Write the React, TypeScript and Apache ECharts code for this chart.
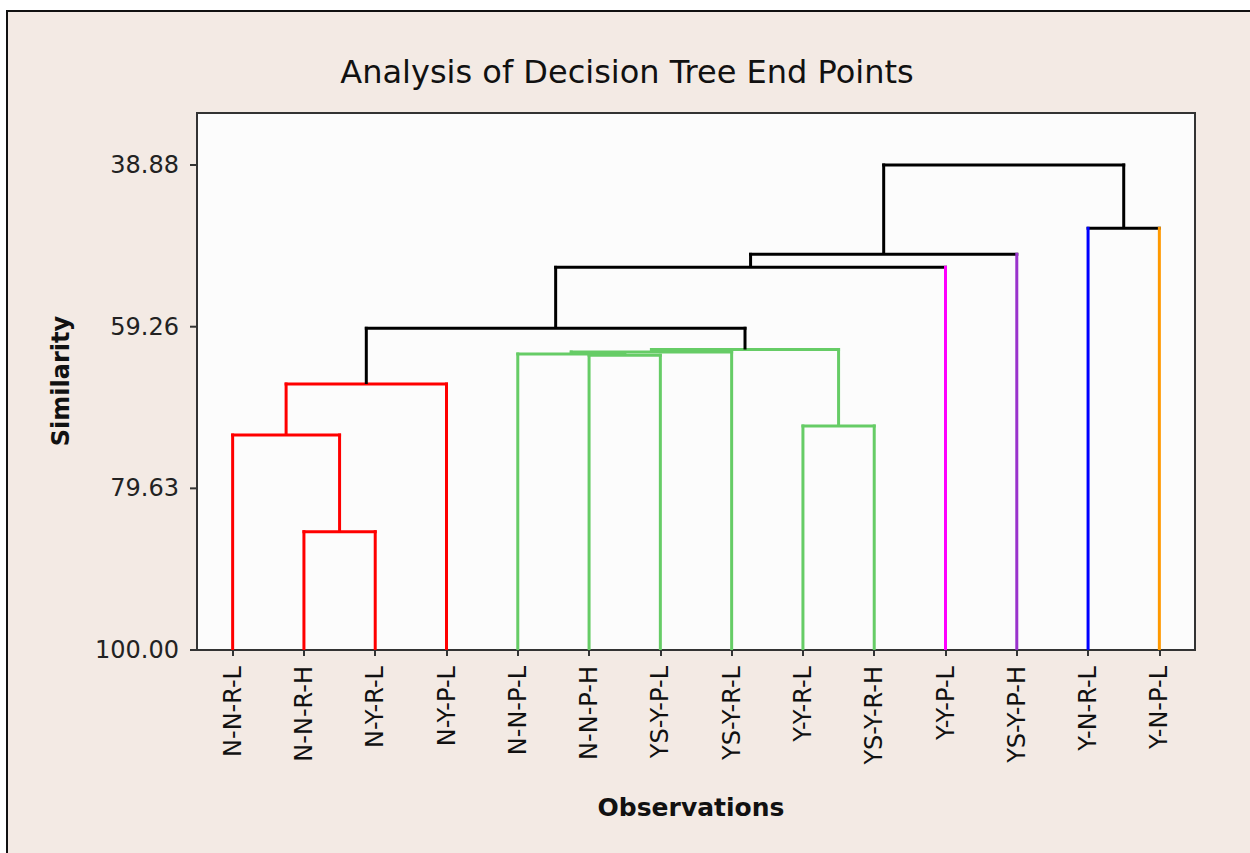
import React, { useEffect, useRef } from "react";
import * as echarts from "echarts";

const leafLabels = [
  "N-N-R-L", "N-N-R-H", "N-Y-R-L", "N-Y-P-L", "N-N-P-L", "N-N-P-H", "YS-Y-P-L",
  "YS-Y-R-L", "Y-Y-R-L", "YS-Y-R-H", "Y-Y-P-L", "YS-Y-P-H", "Y-N-R-L", "Y-N-P-L",
];
const RED = "#FF0000";
const GREEN = "#66CC66";
const BLACK = "#000000";
const leafColors = [
  RED, RED, RED, RED, GREEN, GREEN, GREEN, GREEN, GREEN, GREEN,
  "#FF00FF", "#9933CC", "#0000FF", "#FF9900",
];
// node ids: 0..13 leaves, 14+k = merge k
const mergeLeft = [1, 8, 0, 16, 5, 4, 19, 20, 17, 22, 23, 12, 24];
const mergeRight = [2, 9, 14, 3, 6, 18, 7, 15, 21, 10, 11, 13, 25];
const mergeSimilarity = [85.09, 71.77, 72.91, 66.48, 62.85, 62.7, 62.45, 62.13, 59.46, 51.78, 50.14, 46.86, 38.88];
const mergeColors = [RED, GREEN, RED, RED, GREEN, GREEN, GREEN, GREEN, BLACK, BLACK, BLACK, BLACK, BLACK];
const yTickValues = [38.88, 59.26, 79.63, 100.0];
const leafPositions = leafLabels.map((_, i) => i);

const FONT = "'DejaVu Sans', sans-serif";
const nLeaves = leafLabels.length;
const X_MIN = -0.5;

function nodeX(id: number): number {
  if (id < nLeaves) return leafPositions[id];
  const k = id - nLeaves;
  return (nodeX(mergeLeft[k]) + nodeX(mergeRight[k])) / 2;
}
function nodeH(id: number): number {
  if (id < nLeaves) return 100;
  return mergeSimilarity[id - nLeaves];
}

export default function App() {
  const ref = useRef<HTMLDivElement>(null);
  useEffect(() => {
    if (!ref.current) return;
    const chart = echarts.init(ref.current, null, { renderer: "svg" });
    const option: any = {
      animation: false,
      backgroundColor: "transparent",
      grid: {
        left: 197, top: 113, width: 998, height: 537,
        show: true, backgroundColor: "#FCFCFC", borderColor: "#333", borderWidth: 2,
      },
      xAxis: {
        type: "value", min: X_MIN, max: 13.5,
        axisLine: { show: false },
        splitLine: { show: false },
        axisTick: {
          show: true, customValues: leafPositions, length: 6,
          lineStyle: { color: "#333", width: 2 },
        },
        axisLabel: {
          customValues: leafPositions, rotate: 90, margin: 16,
          fontSize: 24, fontFamily: FONT, color: "#111",
          formatter: (v: number) => leafLabels[Math.round(v)] ?? "",
        },
      },
      yAxis: {
        type: "value", inverse: true, min: 32.33, max: 100,
        axisLine: { show: false },
        splitLine: { show: false },
        axisTick: { show: false },
        axisLabel: {
          customValues: yTickValues, margin: 18,
          fontSize: 24, fontFamily: FONT, color: "#222",
          formatter: (v: number) => v.toFixed(2),
        },
      },
      graphic: [
        {
          type: "text", x: 627, y: 72, z: 10,
          style: {
            text: "Analysis of Decision Tree End Points", font: `32px ${FONT}`,
            fill: "#111", textAlign: "center", textVerticalAlign: "middle",
          },
        },
        {
          type: "text", x: 691, y: 807, z: 10,
          style: {
            text: "Observations", font: `bold 25px ${FONT}`,
            fill: "#111", textAlign: "center", textVerticalAlign: "middle",
          },
        },
        {
          type: "text", x: 61, y: 381, rotation: Math.PI / 2, z: 10,
          style: {
            text: "Similarity", font: `bold 24px ${FONT}`,
            fill: "#111", textAlign: "center", textVerticalAlign: "middle",
          },
        },
      ],
      series: [
        {
          type: "custom",
          silent: true,
          clip: false,
          data: yTickValues.map((v) => [X_MIN, v]),
          renderItem: (params: any, api: any) => {
            const p = api.coord([X_MIN, yTickValues[params.dataIndex]]);
            return {
              type: "line",
              shape: { x1: p[0] - 7, y1: p[1], x2: p[0], y2: p[1] },
              style: { stroke: "#333", lineWidth: 2 },
            };
          },
        },
        {
          type: "custom",
          silent: true,
          data: mergeSimilarity.map((h, i) => [nodeX(i + nLeaves), h]),
          renderItem: (params: any, api: any) => {
            const k = params.dataIndex;
            const h = mergeSimilarity[k];
            const color = mergeColors[k];
            const children = [mergeLeft[k], mergeRight[k]];
            const pL = api.coord([nodeX(children[0]), h]);
            const pR = api.coord([nodeX(children[1]), h]);
            const els: any[] = [
              {
                type: "line",
                shape: { x1: pL[0], y1: pL[1], x2: pR[0], y2: pR[1] },
                style: { stroke: color, lineWidth: 3, lineCap: "square" },
              },
            ];
            children.forEach((id) => {
              const top = api.coord([nodeX(id), h]);
              const bot = api.coord([nodeX(id), nodeH(id)]);
              els.push({
                type: "line",
                shape: { x1: top[0], y1: top[1] - 1.5, x2: bot[0], y2: bot[1] },
                style: { stroke: id < nLeaves ? leafColors[id] : color, lineWidth: 3, lineCap: "butt" },
              });
            });
            return { type: "group", children: els };
          },
        },
      ],
    };
    chart.setOption(option);
    return () => chart.dispose();
  }, []);

  return (
    <div style={{ position: "fixed", left: 0, top: 0, width: 1250, height: 853, background: "#FFFFFF", overflow: "hidden" }}>
      <div
        style={{
          position: "absolute", left: 6, top: 10, width: 1300, height: 900,
          borderLeft: "2px solid #111", borderTop: "2px solid #111", background: "#F3EAE4",
        }}
      />
      <div ref={ref} style={{ position: "absolute", left: 0, top: 0, width: 1250, height: 853 }} />
    </div>
  );
}
